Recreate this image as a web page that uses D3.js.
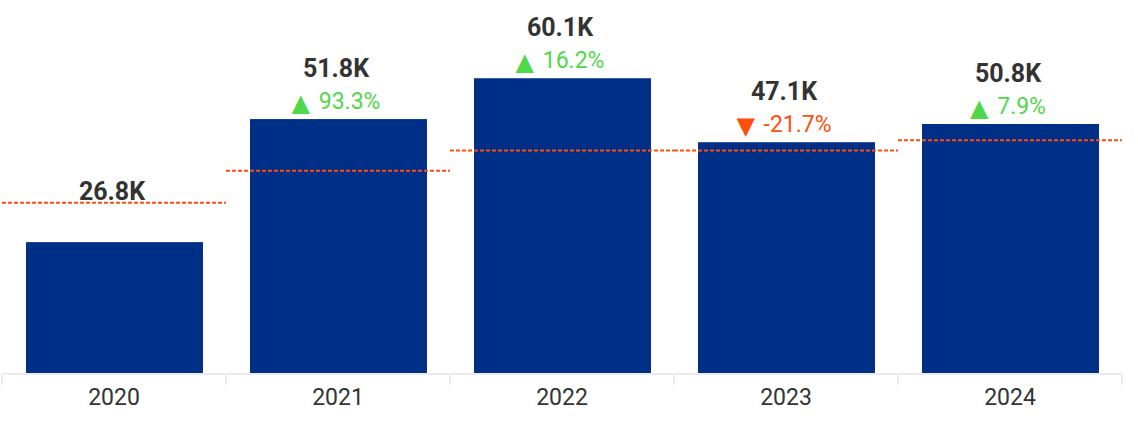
<!DOCTYPE html>
<meta charset="utf-8">
<script src="https://d3js.org/d3.v7.min.js"></script>
<style>
  body { margin: 0; background: #fff; }
  svg text { font-family: Roboto, "Noto Sans", sans-serif; }
</style>
<div id="my_dataviz"></div>
<script>
// data
var years = ["2020", "2021", "2022", "2023", "2024"];
var values = [26.8, 51.8, 60.1, 47.1, 50.8];          // thousands
var changes = [null, 93.3, 16.2, -21.7, 7.9];         // % vs previous year
var targets = [34.8, 41.3, 45.4, 45.4, 47.5];         // dashed reference, thousands

var width = 1138, height = 426;
var baseY = 374;

var svg = d3.select("#my_dataviz")
  .append("svg")
  .attr("width", width)
  .attr("height", height);

// band for bars
var x = d3.scaleBand()
  .domain(years)
  .range([2, 1122])
  .paddingInner(0.21)
  .paddingOuter(0.105);

// band without padding, for the category boundaries
var x0 = d3.scaleBand()
  .domain(years)
  .range([2, 1122])
  .padding(0);

var y = d3.scaleLinear()
  .domain([0, 76])
  .range([baseY, 0]);

var data = years.map(function (d, i) {
  return { year: d, value: values[i], change: changes[i], target: targets[i] };
});

// bars
svg.selectAll("rect.bar")
  .data(data)
  .enter()
  .append("rect")
  .attr("class", "bar")
  .attr("x", function (d) { return x(d.year) + 0.5; })
  .attr("y", function (d) { return y(d.value); })
  .attr("width", x.bandwidth())
  .attr("height", function (d) { return baseY - y(d.value); })
  .attr("fill", "#002f87");

// dashed reference lines per year
svg.selectAll("line.target")
  .data(data)
  .enter()
  .append("line")
  .attr("class", "target")
  .attr("x1", function (d) { return x0(d.year); })
  .attr("x2", function (d) { return x0(d.year) + x0.step(); })
  .attr("y1", function (d) { return y(d.target); })
  .attr("y2", function (d) { return y(d.target); })
  .attr("stroke", "#fc4e12")
  .attr("stroke-width", 2)
  .attr("stroke-dasharray", "4,2");

// axis
var axis = svg.append("g")
  .attr("transform", "translate(0," + baseY + ")")
  .call(d3.axisBottom(x).tickSize(0).tickPadding(15));
axis.select(".domain")
  .attr("stroke", "#ebebeb")
  .attr("stroke-width", 2)
  .attr("d", "M" + x0.range()[0] + ",0H" + x0.range()[1]);
axis.selectAll("text")
  .attr("font-size", 23)
  .attr("font-family", "Roboto, sans-serif")
  .attr("fill", "#333");

// boundary ticks
var bounds = years.map(function (d) { return x0(d); }).concat([x0.range()[1]]);
axis.selectAll("line.bound")
  .data(bounds)
  .enter()
  .append("line")
  .attr("class", "bound")
  .attr("x1", function (d) { return d; })
  .attr("x2", function (d) { return d; })
  .attr("y1", 0)
  .attr("y2", 11)
  .attr("stroke", "#ebebeb")
  .attr("stroke-width", 2);

// value labels
svg.selectAll("text.val")
  .data(data)
  .enter()
  .append("text")
  .attr("class", "val")
  .attr("x", function (d) { return x(d.year) + x.bandwidth() / 2 - 2; })
  .attr("y", function (d) { return y(d.value) - 42; })
  .attr("text-anchor", "middle")
  .attr("font-size", 25)
  .attr("font-weight", "bold")
  .attr("fill", "#333")
  .text(function (d) { return d.value.toFixed(1) + "K"; });

// change labels
var chg = svg.selectAll("text.chg")
  .data(data.filter(function (d) { return d.change !== null; }))
  .enter()
  .append("text")
  .attr("class", "chg")
  .attr("x", function (d) { return x(d.year) + x.bandwidth() / 2 - 2; })
  .attr("y", function (d) { return y(d.value) - 10; })
  .attr("text-anchor", "middle")
  .attr("fill", function (d) { return d.change >= 0 ? "#4fd84a" : "#ff4f0a"; });

chg.append("tspan")
  .attr("font-family", "DejaVu Sans, sans-serif")
  .attr("font-size", 24)
  .attr("dy", 2)
  .text(function (d) { return d.change >= 0 ? "▲" : "▼"; });

chg.append("tspan")
  .attr("font-size", 23)
  .attr("dy", -2)
  .attr("dx", 3)
  .text(function (d) { return " " + d.change.toFixed(1) + "%"; });
</script>
